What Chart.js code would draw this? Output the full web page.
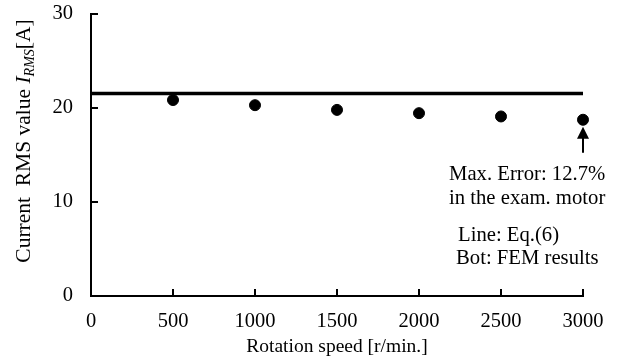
<!DOCTYPE html>
<html>
<head>
<meta charset="utf-8">
<script src="https://cdn.jsdelivr.net/npm/chart.js@4"></script>
<style>
  html, body { margin: 0; padding: 0; background: #fff; }
</style>
</head>
<body>
<canvas id="chart" width="624" height="363"></canvas>
<script>
// values
var speeds = [500, 1000, 1500, 2000, 2500, 3000];
var femCurrent = [20.85, 20.3, 19.8, 19.45, 19.1, 18.75];
var eqSpeeds = [0, 3000];
var eqCurrent = [21.55, 21.55];
var xTicks = [0, 500, 1000, 1500, 2000, 2500, 3000];
var yTicks = [0, 10, 20, 30];

var FONT = 'Liberation Serif';

// inward tick marks, y axis title with subscript, notes and arrow
var extras = {
    id: 'extras',
    afterDraw: function (chart) {
        var ctx = chart.ctx;
        var xs = chart.scales.x, ys = chart.scales.y;
        var area = chart.chartArea;
        ctx.save();
        ctx.strokeStyle = '#000';
        ctx.lineWidth = 2;
        xTicks.forEach(function (v) {
            if (v === 0) return;
            var px = xs.getPixelForValue(v);
            ctx.beginPath();
            ctx.moveTo(px, area.bottom);
            ctx.lineTo(px, area.bottom - 7);
            ctx.stroke();
        });
        yTicks.forEach(function (v) {
            if (v === 0) return;
            var py = ys.getPixelForValue(v);
            ctx.beginPath();
            ctx.moveTo(area.left, py);
            ctx.lineTo(area.left + 7, py);
            ctx.stroke();
        });

        // arrow pointing at the last FEM point
        var last = speeds.length - 1;
        var ax = xs.getPixelForValue(speeds[last]);
        var ay = ys.getPixelForValue(femCurrent[last]) + 7;
        ctx.fillStyle = '#000';
        ctx.beginPath();
        ctx.moveTo(ax, ay);
        ctx.lineTo(ax - 6, ay + 12);
        ctx.lineTo(ax + 6, ay + 12);
        ctx.closePath();
        ctx.fill();
        ctx.beginPath();
        ctx.moveTo(ax, ay + 10);
        ctx.lineTo(ax, ay + 26);
        ctx.stroke();

        // notes
        ctx.font = '20.7px "' + FONT + '"';
        ctx.textBaseline = 'middle';
        ctx.textAlign = 'left';
        ctx.fillText('Max. Error: 12.7%', 449, 175);
        ctx.fillText('in the exam. motor', 449, 199);
        ctx.fillText('Line: Eq.(6)', 458, 236);
        ctx.fillText('Bot: FEM results', 456, 259);

        // y axis title
        var parts = [
            { t: 'Current  RMS value ', f: '21.5px "' + FONT + '"', dy: 0 },
            { t: 'I', f: 'italic 21.5px "' + FONT + '"', dy: 0 },
            { t: 'RMS', f: 'italic 14px "' + FONT + '"', dy: 4 },
            { t: '[A]', f: '21.5px "' + FONT + '"', dy: 0 }
        ];
        var total = 0;
        parts.forEach(function (p) { ctx.font = p.f; p.w = ctx.measureText(p.t).width; total += p.w; });
        ctx.translate(30, 141);
        ctx.rotate(-Math.PI / 2);
        ctx.textBaseline = 'alphabetic';
        var cx = -total / 2;
        parts.forEach(function (p) {
            ctx.font = p.f;
            ctx.fillText(p.t, cx, p.dy);
            cx += p.w;
        });
        ctx.restore();
    }
};

new Chart(document.getElementById('chart').getContext('2d'), {
    type: 'scatter',
    data: {
        datasets: [{
            data: eqSpeeds.map(function (s, i) { return { x: s, y: eqCurrent[i] }; }),
            showLine: true,
            borderColor: '#000',
            borderWidth: 3.5,
            pointRadius: 0,
            clip: false
        }, {
            data: speeds.map(function (s, i) { return { x: s, y: femCurrent[i] }; }),
            backgroundColor: '#000',
            borderColor: '#000',
            pointRadius: 5.5,
            pointHoverRadius: 5.5,
            clip: false
        }]
    },
    options: {
        responsive: false,
        animation: false,
        layout: { padding: { top: 14, right: 41, left: 0, bottom: 0 } },
        scales: {
            x: {
                type: 'linear',
                min: 0,
                max: 3000,
                afterBuildTicks: function (axis) { axis.ticks = xTicks.map(function (v) { return { value: v }; }); },
                afterFit: function (axis) { axis.height = 67; axis.paddingLeft = 0; axis.paddingRight = 0; },
                ticks: {
                    color: '#000', font: { family: FONT, size: 20.5 }, padding: 13, maxRotation: 0,
                    callback: function (v) { return String(v); }
                },
                grid: { drawOnChartArea: false, drawTicks: false },
                border: { color: '#000', width: 2 },
                title: {
                    display: true,
                    text: 'Rotation speed [r/min.]',
                    color: '#000',
                    font: { family: FONT, size: 19.5 },
                    padding: { top: 0, bottom: 4 }
                }
            },
            y: {
                min: 0,
                max: 30,
                afterBuildTicks: function (axis) { axis.ticks = yTicks.map(function (v) { return { value: v }; }); },
                afterFit: function (axis) { axis.width = 91; axis.paddingTop = 0; axis.paddingBottom = 0; },
                ticks: {
                    color: '#000', font: { family: FONT, size: 20.5 }, padding: 18,
                    callback: function (v) { return String(v); }
                },
                grid: { drawOnChartArea: false, drawTicks: false },
                border: { color: '#000', width: 2 }
            }
        },
        plugins: {
            legend: { display: false },
            tooltip: { enabled: false }
        }
    },
    plugins: [extras]
});
</script>
</body>
</html>
